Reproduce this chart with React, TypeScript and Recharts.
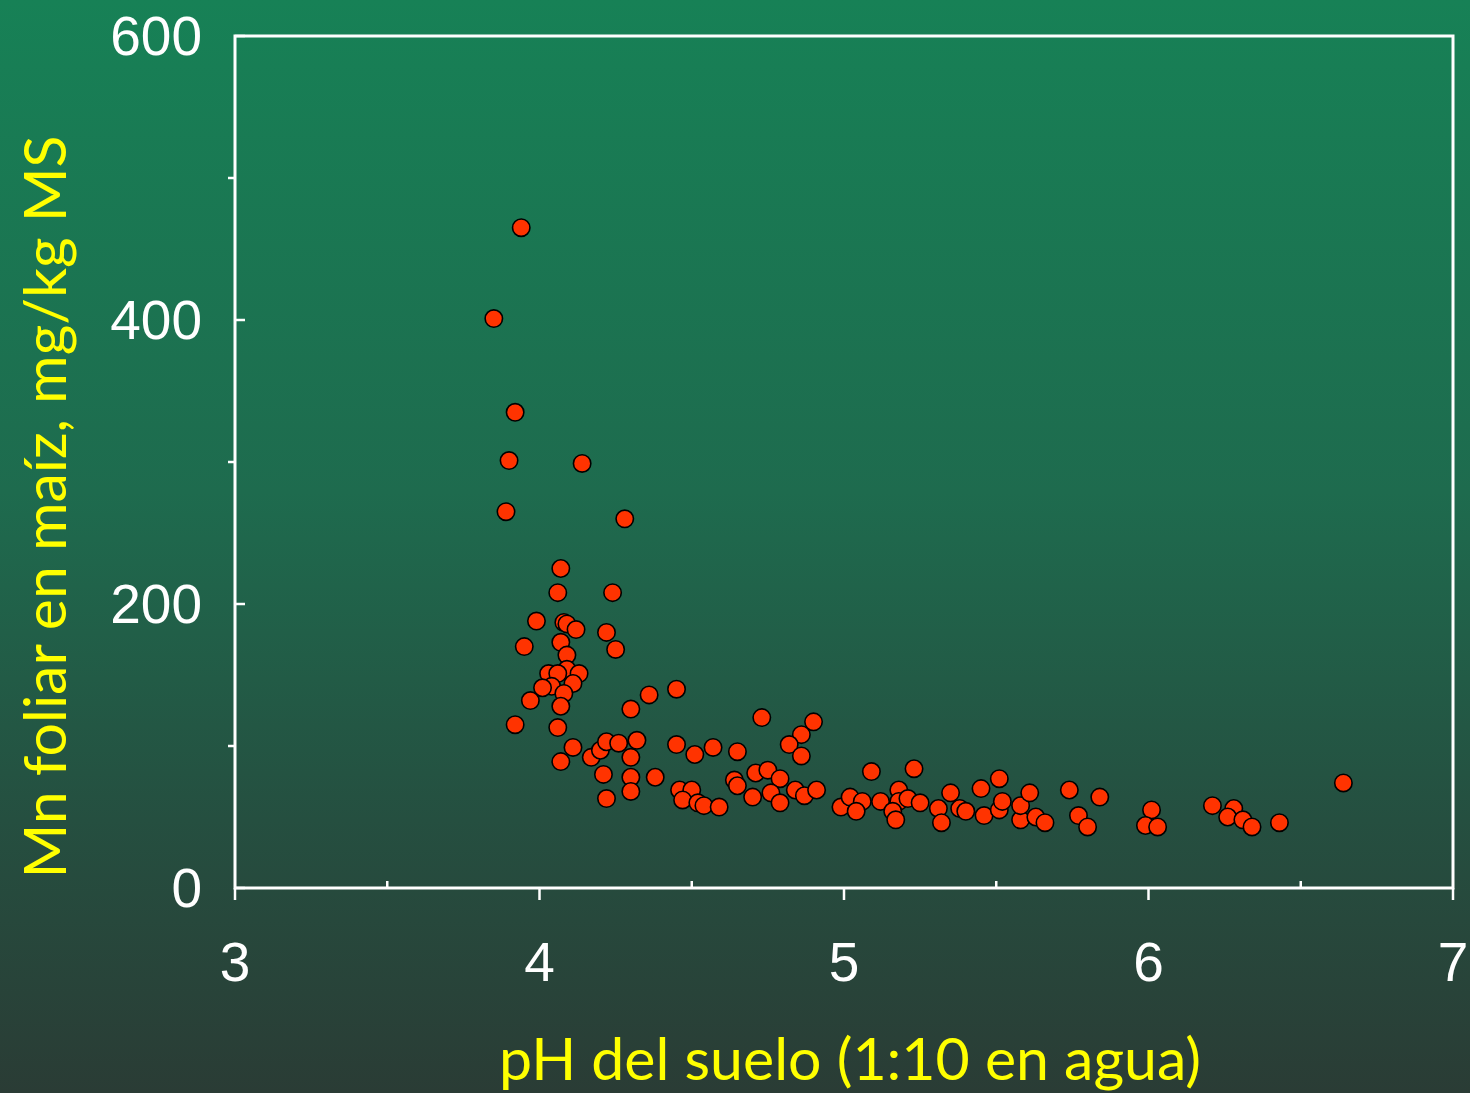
import React from 'react';
import { ScatterChart, Scatter, XAxis, YAxis, ReferenceArea } from 'recharts';

// Soil pH (1:10 in water)
const phValues: number[] = [
  3.94, 3.85, 3.92, 3.90, 4.14, 3.89, 4.28, 4.07, 4.06, 4.24,
  3.99, 4.08, 4.09, 4.12, 4.22, 4.07, 3.95, 4.25, 4.09, 4.09,
  4.03, 4.06, 4.13, 4.11, 4.04, 4.01, 4.08, 3.97, 4.07, 4.36,
  4.45, 4.30, 3.92, 4.06, 4.73, 4.90, 4.86, 4.82, 4.86, 4.11,
  4.07, 4.17, 4.20, 4.22, 4.26, 4.32, 4.30, 4.45, 4.51, 4.57,
  4.65, 4.21, 4.30, 4.38, 4.22, 4.30, 4.46, 4.50, 4.47, 4.52,
  4.54, 4.59, 4.71, 4.75, 4.79, 4.64, 4.65, 4.70, 4.76, 4.79,
  4.84, 4.87, 4.91, 5.09, 5.23, 4.99, 5.02, 5.06, 5.04, 5.12,
  5.18, 5.18, 5.16, 5.17, 5.21, 5.25, 5.31, 5.32, 5.35, 5.38,
  5.40, 5.45, 5.51, 5.46, 5.51, 5.52, 5.58, 5.58, 5.61, 5.63,
  5.66, 5.74, 5.77, 5.80, 5.84, 6.01, 5.99, 6.03, 6.21, 6.28,
  6.26, 6.31, 6.34, 6.43, 6.64,
];

// Foliar Mn in maize, mg/kg DM
const mnValues: number[] = [
  465, 401, 335, 301, 299, 265, 260, 225, 208, 208,
  188, 187, 186, 182, 180, 173, 170, 168, 164, 154,
  151, 151, 151, 144, 142, 141, 137, 132, 128, 136,
  140, 126, 115, 113, 120, 117, 108, 101, 93, 99,
  89, 92, 97, 103, 102, 104, 92, 101, 94, 99,
  96, 80, 78, 78, 63, 68, 69, 69, 62, 60,
  58, 57, 81, 83, 77, 76, 72, 64, 67, 60,
  69, 65, 69, 82, 84, 57, 64, 61, 54, 61,
  69, 61, 54, 48, 63, 60, 56, 46, 67, 56,
  54, 70, 77, 51, 55, 61, 48, 58, 67, 50,
  46, 69, 51, 43, 64, 55, 44, 43, 58, 56,
  50, 48, 43, 46, 74,
];

const xTicks: number[] = [3, 3.5, 4, 4.5, 5, 5.5, 6, 6.5, 7];
const yTicks: number[] = [0, 100, 200, 300, 400, 500, 600];

const xTitle = 'pH del suelo (1:10 en agua)';
const yTitle = 'Mn foliar en maíz, mg/kg MS';

const data = phValues.map((ph, i) => ({ ph, mn: mnValues[i] }));

const WHITE = '#ffffff';
const YELLOW = '#ffff00';
const TICK_FONT = '"Liberation Sans", Arial, sans-serif';
const TITLE_FONT = 'Lato, "Open Sans", sans-serif';

const XTick = (props: any) => {
  const { x, y, payload } = props;
  const v = payload.value as number;
  const major = Number.isInteger(v);
  return (
    <g>
      {major ? (
        <line x1={x} x2={x} y1={y} y2={y + 12} stroke={WHITE} strokeWidth={2.5} />
      ) : (
        <line x1={x} x2={x} y1={y - 7} y2={y} stroke={WHITE} strokeWidth={2.5} />
      )}
      {major && (
        <text
          x={x}
          y={y + 74}
          textAnchor="middle"
          dominantBaseline="central"
          fill={WHITE}
          fontSize={55}
          fontFamily={TICK_FONT}
        >
          {v}
        </text>
      )}
    </g>
  );
};

const YTick = (props: any) => {
  const { x, y, payload } = props;
  const v = payload.value as number;
  const major = v % 200 === 0;
  return (
    <g>
      {major ? (
        <line x1={x} x2={x + 10} y1={y} y2={y} stroke={WHITE} strokeWidth={2.5} />
      ) : (
        <line x1={x - 7} x2={x} y1={y} y2={y} stroke={WHITE} strokeWidth={2.5} />
      )}
      {major && (
        <text
          x={x - 33}
          y={y}
          textAnchor="end"
          dominantBaseline="central"
          fill={WHITE}
          fontSize={55}
          fontFamily={TICK_FONT}
        >
          {v}
        </text>
      )}
    </g>
  );
};

const Dot = (props: any) => {
  const { cx, cy } = props;
  if (cx == null || cy == null) return null;
  return <circle cx={cx} cy={cy} r={8.7} fill="#ff3300" stroke="#000" strokeWidth={1.6} />;
};

const XTitle = (props: any) => {
  const vb = props.viewBox || { x: 235, y: 888, width: 1218, height: 205 };
  return (
    <text
      x={vb.x + vb.width / 2 + 6}
      y={vb.y + 192}
      textAnchor="middle"
      fill={YELLOW}
      fontSize={59}
      fontFamily={TITLE_FONT}
    >
      {xTitle}
    </text>
  );
};

const YTitle = (props: any) => {
  const vb = props.viewBox || { x: 0, y: 36, width: 235, height: 852 };
  const cx = 66;
  const cy = vb.y + vb.height / 2 + 45;
  return (
    <text
      x={cx}
      y={cy}
      transform={`rotate(-90, ${cx}, ${cy})`}
      textAnchor="middle"
      fill={YELLOW}
      fontSize={59}
      fontFamily={TITLE_FONT}
    >
      {yTitle}
    </text>
  );
};

export default function App() {
  return (
    <div
      style={{
        width: 1470,
        height: 1093,
        background: 'linear-gradient(180deg, #178156 0%, #1e6b4e 45%, #254f40 75%, #2a3c35 100%)',
        overflow: 'hidden',
      }}
    >
      <style>{'body{margin:0;}'}</style>
      <ScatterChart width={1470} height={1093} margin={{ top: 36, right: 17, bottom: 0, left: 0 }}>
        <ReferenceArea
          x1={3}
          x2={7}
          y1={0}
          y2={600}
          fill="none"
          stroke={WHITE}
          strokeWidth={3}
          ifOverflow="visible"
        />
        <XAxis
          type="number"
          dataKey="ph"
          domain={[3, 7]}
          ticks={xTicks}
          interval={0}
          height={205}
          axisLine={false}
          tickLine={false}
          tickSize={0}
          tickMargin={0}
          tick={<XTick />}
          label={<XTitle />}
        />
        <YAxis
          type="number"
          dataKey="mn"
          domain={[0, 600]}
          ticks={yTicks}
          interval={0}
          width={235}
          axisLine={false}
          tickLine={false}
          tickSize={0}
          tickMargin={0}
          tick={<YTick />}
          label={<YTitle />}
        />
        <Scatter data={data} shape={<Dot />} isAnimationActive={false} />
      </ScatterChart>
    </div>
  );
}
